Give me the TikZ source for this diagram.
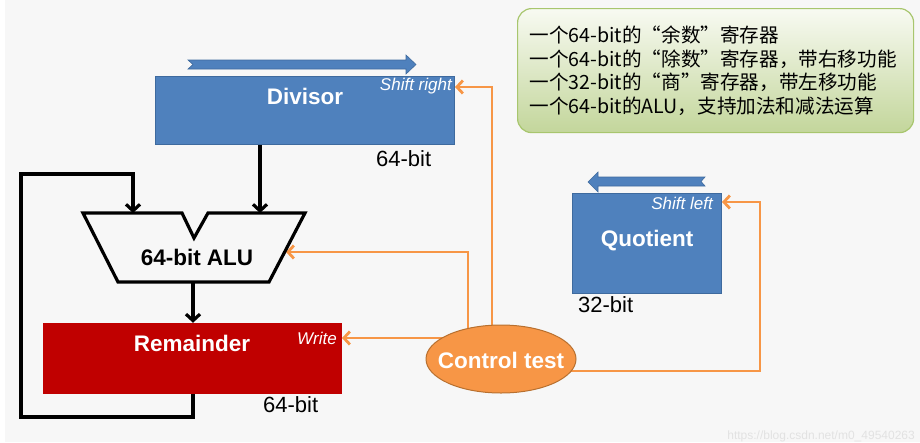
\documentclass[tikz,border=0pt]{standalone}
\usepackage{fontspec}
\setmainfont{Liberation Sans}
\newfontfamily\cjk{Noto Sans CJK SC}
\usetikzlibrary{arrows.meta,shapes.geometric,calc}
\definecolor{bgc}{HTML}{F7F7F7}
\definecolor{regblue}{HTML}{4F81BD}
\definecolor{regblueb}{HTML}{3E6A9E}
\definecolor{remred}{HTML}{C00000}
\definecolor{ctlor}{HTML}{F79646}
\definecolor{ctlorb}{HTML}{B8702F}
\definecolor{lineor}{HTML}{F79646}
\definecolor{boxtop}{HTML}{F8FAF2}
\definecolor{boxbot}{HTML}{C3D69B}
\definecolor{boxbd}{HTML}{A8C66E}
\definecolor{wmark}{HTML}{E2E2E2}
\pgfdeclarelayer{bgl}
\pgfdeclarelayer{wires}
\pgfsetlayers{bgl,wires,main}
\tikzset{
  regbox/.style={draw=regblueb, line width=0.8pt, fill=regblue, inner sep=0pt},
  regtitle/.style={font=\fontsize{22.5}{26}\selectfont\bfseries, text=white, inner sep=0pt},
  ctltag/.style={font=\fontsize{17}{20}\selectfont\itshape, text=white, inner sep=0pt, anchor=east},
  bits/.style={font=\fontsize{22}{26}\selectfont, inner sep=0pt, anchor=west},
  wire/.style={line width=3.2pt, black, -{Straight Barb[length=6.5pt,width=14pt]}},
  cwire/.style={line width=2.8pt, lineor, -{Straight Barb[length=6pt,width=13pt]}},
  shiftarrow/.style={fill=regblue, draw=regblueb, line width=0.6pt}
}
\begin{document}
\begin{tikzpicture}[x=1pt,y=-1pt]
\useasboundingbox (0,0) rectangle (920,442);
\begin{pgfonlayer}{bgl}
  \fill[bgc] (0,0) rectangle (920,442);
  \fill[white] (0,0) rectangle (5,442);
\end{pgfonlayer}

% notes box
\node[draw=boxbd, line width=1.2pt, rounded corners=14pt, top color=boxtop, bottom color=boxbot,
      minimum width=396pt, minimum height=124pt, anchor=north west, inner sep=0pt,
      text width=372pt, align=left, font=\cjk\fontsize{19.6}{23.7}\selectfont] (notes) at (517,8)
  {一个64-bit的“余数”寄存器\\一个64-bit的“除数”寄存器，带右移功能\\一个32-bit的“商”寄存器，带左移功能\\一个64-bit的ALU，支持加法和减法运算};

% Divisor
\draw[shiftarrow] (188,60) -- (406,60) -- (406,55) -- (416,64.5) -- (406,74) -- (406,69) -- (188,69) -- (193,64.5) -- cycle;
\node[regbox, minimum width=299pt, minimum height=68pt] (divisor) at (304.5,110) {};
\node[regtitle] (divt) at (305,96) {Divisor};
\node[ctltag] (shr) at (452,86) {Shift right};
\node[bits] (divbits) at (376,159) {64-bit};

% ALU
\draw[line width=3.2pt, line join=miter] (83,213) -- (182,213) -- (194,238) -- (208,213) -- (305,213) -- (269,282) -- (118,282) -- cycle;
\node[regtitle, text=black] (alu) at (197,257) {64-bit ALU};
\coordinate (aluinA) at (133,213);
\coordinate (aluinB) at (260,213);
\coordinate (aluout) at (193,282);
\coordinate (aluctl) at (286,252);

% Remainder
\node[draw=remred, fill=remred, minimum width=298pt, minimum height=70pt, inner sep=0pt] (remainder) at (192,358) {};
\node[regtitle] (remt) at (192,343) {Remainder};
\node[ctltag] (wrt) at (337,338.5) {Write};
\node[bits] (rembits) at (263,405) {64-bit};
\coordinate (wr) at (342,338);

% Quotient
\draw[shiftarrow] (705,177) -- (598,177) -- (598,172) -- (588,182) -- (598,192) -- (598,186) -- (705,186) -- (701,181.5) -- cycle;
\node[regbox, minimum width=149pt, minimum height=100pt] (quotient) at (646.5,243) {};
\node[regtitle] (quot) at (647,241) {Quotient};
\node[ctltag] (shl) at (713,203) {Shift left};
\node[bits] (qbits) at (578,305) {32-bit};
\coordinate (shrin) at (455,87);
\coordinate (shlin) at (722,202);

% Control
\node[ellipse, draw=ctlorb, line width=1pt, fill=ctlor, minimum width=150pt, minimum height=68pt, inner sep=0pt] (ctrl) at (501,359) {};
\node[regtitle] (ctrlt) at (501,360) {Control test};

\begin{pgfonlayer}{wires}
  \draw[wire] (divisor.south -| aluinB) -- (aluinB);
  \draw[wire] (aluout) -- (aluout |- remainder.north);
  \draw[wire, line join=miter] (remainder.south -| aluout) -- (193,417) -| (21,174) -| (aluinA);
  \draw[cwire] (ctrl.center |- wr) -- (wr);
  \draw[cwire] ([xshift=-33pt]ctrl.center) |- (aluctl);
  \draw[cwire] ([xshift=-9pt]ctrl.center) |- (shrin);
  \draw[cwire] ($(ctrl.center)+(0,12)$) -- (760,371) |- (shlin);
\end{pgfonlayer}

\node[text=wmark, font=\fontsize{12}{14}\selectfont, anchor=east, inner sep=0pt] (wm) at (915,436) {https://blog.csdn.net/m0\_49540263};
\end{tikzpicture}
\end{document}
